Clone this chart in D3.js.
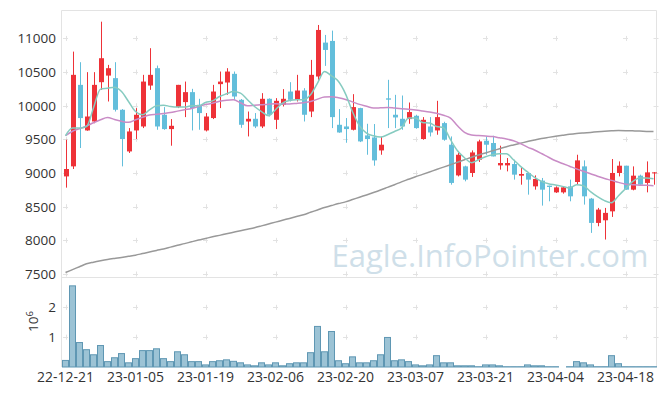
<!DOCTYPE html>
<html><head><meta charset="utf-8">
<script src="https://cdn.jsdelivr.net/npm/d3@7"></script>
<style>html,body{margin:0;padding:0;background:#fff;}svg{display:block;font-family:"Open Sans",sans-serif;}</style>
</head><body><svg id="c" width="665" height="396"></svg>
<script>
const dates = ["22-12-21","22-12-22","22-12-23","22-12-26","22-12-27","22-12-28","22-12-29","23-01-02","23-01-03","23-01-04",
"23-01-05","23-01-06","23-01-09","23-01-10","23-01-11","23-01-12","23-01-13","23-01-16","23-01-17","23-01-18",
"23-01-19","23-01-20","23-01-25","23-01-26","23-01-27","23-01-30","23-01-31","23-02-01","23-02-02","23-02-03",
"23-02-06","23-02-07","23-02-08","23-02-09","23-02-10","23-02-13","23-02-14","23-02-15","23-02-16","23-02-17",
"23-02-20","23-02-21","23-02-22","23-02-23","23-02-24","23-02-27","23-02-28","23-03-02","23-03-03","23-03-06",
"23-03-07","23-03-08","23-03-09","23-03-10","23-03-13","23-03-14","23-03-15","23-03-16","23-03-17","23-03-20",
"23-03-21","23-03-22","23-03-23","23-03-24","23-03-27","23-03-28","23-03-29","23-03-30","23-03-31","23-04-03",
"23-04-04","23-04-05","23-04-06","23-04-07","23-04-10","23-04-11","23-04-12","23-04-13","23-04-14","23-04-17",
"23-04-18","23-04-19","23-04-20","23-04-21","23-04-24"];
const open = [8950,9099,10310,9633,9766,10350,10448,10410,9940,9321,
9633,9692,10300,10558,9866,9653,9980,10054,10202,10014,
9633,9817,10321,10345,10474,10088,9766,9806,9692,10103,
9791,10014,10211,10088,10226,9914,10434,10938,10963,9717,
9692,9643,9965,9559,9529,9336,10110,9866,9806,9802,
9851,9505,9692,9633,9742,9421,8965,9099,9001,9198,
9480,9446,9114,9114,9134,8961,9001,8802,8887,8813,
8713,8713,8802,8867,9099,8620,8259,8298,8431,9001,
9109,8753,8961,8853,9000];
const high = [9495,10804,10647,10499,10499,11249,10607,10647,9950,9668,
9965,10459,10855,10597,9980,9802,10310,10359,10251,10103,
9891,10310,10508,10558,10508,10100,9914,9891,10187,10110,
10113,10247,10350,10459,10261,10681,11200,11052,11116,9950,
9817,10172,9970,9732,9728,9535,10385,10162,10152,10048,
9866,9831,9831,10073,9762,9544,9306,9109,9336,9495,
9544,9554,9406,9223,9198,9075,9010,8965,8927,8813,
8802,8802,8902,9272,9188,8630,8482,8482,9208,9173,
9109,9099,8976,9173,9015];
const low = [8783,9060,9372,9628,9740,10236,10063,9914,9099,9298,
9505,9668,10236,9643,9643,9406,9965,9831,9633,9643,
9618,9802,9965,10162,10088,9672,9544,9668,9668,9840,
9653,9989,10063,10063,9766,9831,10385,10592,9668,9598,
9450,9633,9460,9272,9109,9272,9668,9668,9643,9732,
9658,9495,9544,9569,9480,8827,8950,8877,8942,9164,
9272,9247,9050,9025,8902,8827,8679,8753,8516,8580,
8704,8694,8580,8827,8531,8111,8209,8012,8348,8950,
8753,8743,8827,8713,8827];
const close = [9060,10459,9817,9840,10310,10706,10558,9940,9505,9618,
9866,10359,10459,9692,9653,9702,10310,10202,9965,9891,
9840,10211,10359,10508,10137,9717,9806,9692,10103,9866,
10073,10103,10088,10226,9866,10459,11126,10829,9831,9603,
9653,9980,9470,9505,9188,9421,10090,9826,9692,9906,
9668,9791,9603,9831,9495,8853,9272,8902,9306,9470,
9421,9247,9149,9149,8976,8986,8902,8912,8753,8793,
8787,8787,8654,9188,8654,8259,8457,8408,9001,9109,
8753,8961,8827,9010,9010];
const volume = [220000,2720000,820000,580000,410000,720000,180000,310000,450000,140000,
280000,550000,550000,610000,280000,180000,510000,410000,180000,180000,
70000,180000,210000,240000,190000,140000,70000,40000,140000,70000,
140000,40000,110000,140000,140000,480000,1360000,510000,1190000,210000,
110000,340000,140000,140000,210000,410000,990000,210000,240000,180000,
70000,40000,70000,380000,140000,140000,40000,40000,40000,10000,
70000,70000,40000,10000,10000,10000,70000,40000,40000,10000,
10000,0,10000,180000,140000,70000,10000,10000,380000,110000,
10000,10000,10000,10000,10000];
const ma5 = [9554,9668,9668,9692,9969,10247,10261,10276,10211,10063,
9914,9866,9940,9999,10009,9989,9980,9980,9999,9999,
10048,10073,10137,10177,10211,10187,10088,9989,9914,9851,
9940,10039,10078,10088,10088,10162,10336,10508,10444,10359,
10177,9910,9702,9594,9554,9535,9569,9618,9668,9817,
9817,9751,9742,9692,9673,9495,9332,9228,9154,9198,
9243,9272,9287,9287,9198,9099,9016,8936,8876,8842,
8823,8802,8778,8827,8812,8724,8649,8590,8560,8664,
8768,8872,8927,8927,8916];
const ma20 = [9554,9621,9658,9698,9747,9791,9825,9796,9769,9754,
9791,9828,9861,9873,9885,9898,9920,9940,9959,9989,
10018,10036,10066,10081,10088,10044,9999,10006,10014,10023,
10029,10026,10026,10035,10046,10063,10098,10129,10132,10118,
10094,10058,10020,9992,9965,9969,9974,9966,9957,9947,
9937,9923,9908,9888,9858,9817,9702,9606,9566,9557,
9550,9542,9524,9505,9480,9438,9386,9342,9290,9235,
9183,9142,9102,9062,9026,8990,8953,8919,8891,8861,
8835,8827,8820,8817,8813];
const ma120 = [7522,7565,7608,7651,7675,7696,7715,7731,7746,7763,
7780,7803,7826,7850,7872,7899,7926,7951,7978,8004,
8028,8052,8074,8098,8120,8142,8165,8188,8215,8243,
8271,8298,8326,8353,8381,8417,8452,8488,8517,8546,
8572,8606,8641,8675,8710,8747,8787,8827,8869,8907,
8945,8980,9016,9053,9088,9124,9161,9198,9235,9268,
9299,9330,9361,9392,9418,9443,9468,9492,9514,9530,
9545,9560,9575,9587,9596,9604,9613,9621,9627,9631,
9630,9627,9624,9619,9616];
const priceTicks = [7500,8000,8500,9000,9500,10000,10500,11000];
const volumeTicks = [1000000,2000000];
const volumeTickLabels = ["1","2"];
const xTickEvery = 10;

const svg = d3.select("#c");
const L = 61.5, R = 656.5, T = 10.5, MID = 277.5, B = 367;
const x = d3.scaleBand().domain(dates).range([62, 657]).padding(0);
const cx = d => x(d) + x.bandwidth()/2;
const y = d3.scaleLinear().domain([7448, 11415]).range([MID, T]);
const yv = d3.scaleLinear().domain([0, 3000000]).range([B, MID]);

const tickDates = dates.filter((d,i) => i % xTickEvery === 0);

// grid crosses
const gridG = svg.append("g");
const gx = tickDates.map(cx).concat([656]);
const gy = priceTicks.map(y).concat(volumeTicks.map(yv));
gx.forEach(px => gy.forEach(py => {
  gridG.append("path").attr("d", `M${px-2.5},${Math.round(py)+0.5}h5M${Math.round(px)+0.5},${py-2.5}v5`)
    .attr("stroke","#e2e2e2").attr("stroke-width",1).attr("fill","none");
}));

// frame
svg.append("path").attr("d", `M${L},${B}V${T}H${R}V${B}`).attr("fill","none").attr("stroke","#e3e3e3");
svg.append("line").attr("x1",L).attr("x2",R).attr("y1",MID).attr("y2",MID).attr("stroke","#e3e3e3");

// watermark
svg.append("text").attr("x",490).attr("y",267).attr("text-anchor","middle")
  .attr("font-size",31).attr("fill","#cfdfe9").text("Eagle.InfoPointer.com");

// volume
svg.append("g").selectAll("rect").data(dates).join("rect")
  .attr("x", d => x(d)+0.5).attr("width", x.bandwidth()-1)
  .attr("y", (d,i) => yv(volume[i])).attr("height", (d,i) => volume[i] > 0 ? Math.max(0, B - yv(volume[i])) : 0)
  .attr("fill","#9cc3d5").attr("stroke","#5f97b3").attr("stroke-width",1)
  .style("display", (d,i) => volume[i] > 0 ? null : "none");

// candles
const upC = "#ee3238", dnC = "#63bedb";
const cg = svg.append("g");
dates.forEach((d,i) => {
  const col = close[i] >= open[i] ? upC : dnC;
  const c = Math.round(cx(d)) + 0.5;
  cg.append("line").attr("x1",c).attr("x2",c).attr("y1",y(high[i])).attr("y2",y(low[i]))
    .attr("stroke",col).attr("stroke-width",1);
  const top = y(Math.max(open[i],close[i])), bot = y(Math.min(open[i],close[i]));
  cg.append("rect").attr("x", c-2.5).attr("width",5).attr("y",top).attr("height",Math.max(1,bot-top)).attr("fill",col);
});

// MA lines
const line = arr => d3.line().x((d,i)=>cx(dates[i])).y(d=>y(d)).curve(d3.curveMonotoneX)(arr);
svg.append("path").attr("d", line(ma120)).attr("fill","none").attr("stroke","#999").attr("stroke-width",1.5);
svg.append("path").attr("d", line(ma20)).attr("fill","none").attr("stroke","#c98cc6").attr("stroke-width",1.5);
svg.append("path").attr("d", line(ma5)).attr("fill","none").attr("stroke","#86cbc0").attr("stroke-width",1.5);

// y axis labels
const tg = svg.append("g").attr("fill","#333").attr("font-size",13.5).attr("text-anchor","end");
priceTicks.forEach(v => tg.append("text").attr("x",56).attr("y",y(v)).attr("dy","0.36em").text(v));
volumeTicks.forEach((v,i) => tg.append("text").attr("x",56).attr("y",yv(v)).attr("dy","0.36em").text(volumeTickLabels[i]));
const ul = svg.append("text").attr("transform","translate(37.5,332) rotate(-90)").attr("fill","#333").attr("font-size",13.5);
ul.append("tspan").text("10");
ul.append("tspan").attr("dy",-5).attr("font-size",9.5).text("6");

// x axis labels
svg.append("g").attr("fill","#333").attr("font-size",14).attr("text-anchor","middle")
  .selectAll("text").data(tickDates).join("text").attr("x", d => cx(d)).attr("y",382).text(d => d);
</script></body></html>
